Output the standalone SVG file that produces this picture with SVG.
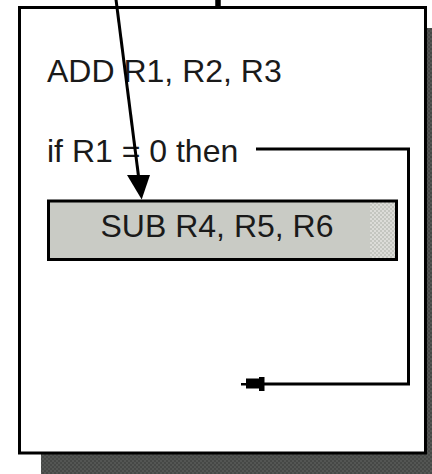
<svg xmlns="http://www.w3.org/2000/svg" width="432" height="474" viewBox="0 0 432 474">
<defs>
<pattern id="shadowPat" width="4" height="4" patternUnits="userSpaceOnUse">
<rect width="4" height="4" fill="#464846"/>
<rect width="2" height="2" fill="#545654"/>
<rect x="2" y="2" width="2" height="2" fill="#545654"/>
</pattern>
<pattern id="lightPat" width="4" height="4" patternUnits="userSpaceOnUse">
<rect width="4" height="4" fill="#c4c6c0"/>
<rect width="2" height="2" fill="#dcdcd8"/>
<rect x="2" y="2" width="2" height="2" fill="#dcdcd8"/>
</pattern>
</defs>
<style>
.txt{font-family:"Liberation Sans",Arial,sans-serif;font-size:32px;fill:#1a1a1a}
.ln{fill:none;stroke:#000;stroke-width:3}
</style>
<rect id="shadow" x="41" y="28" width="400" height="460" fill="url(#shadowPat)"/>
<g id="frame">
<rect x="19.5" y="7.5" width="406" height="445.5" fill="#fff" stroke="#000" stroke-width="3"/>
</g>
<g id="add">
<text class="txt" x="47" y="82">ADD R1, R2, R3</text>
</g>
<g id="if">
<text class="txt" x="47" y="161.5">if R1 = 0 then</text>
</g>
<g id="sub">
<rect x="48.5" y="201" width="348" height="58.5" fill="#c9cbc5"/>
<rect x="370" y="202" width="25" height="56" fill="url(#lightPat)"/>
<rect x="48.5" y="201" width="348" height="58.5" fill="none" stroke="#000" stroke-width="3"/>
<text class="txt" x="100.5" y="236.5">SUB R4, R5, R6</text>
</g>
<g id="connectors">
<line x1="218" y1="0" x2="218" y2="7" stroke="#000" stroke-width="5.5"/>
<line class="ln" x1="115.8" y1="-2" x2="139" y2="180"/>
<polygon points="127,175 150,175 141.7,199.5" fill="#000"/>
<polyline class="ln" points="256,149 408.5,149 408.5,384 252,384"/>
<polygon points="241,383 246,383 246,378.5 259,378.5 259,377 264.5,377 264.5,391 259,391 259,388.5 246,388.5 246,385.5 241,385.5" fill="#000"/>
</g>
</svg>
